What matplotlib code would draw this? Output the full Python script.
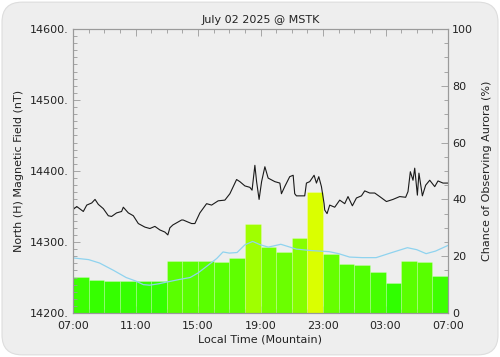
import numpy as np
import matplotlib
matplotlib.use("Agg")
import matplotlib.pyplot as plt
from matplotlib.patches import FancyBboxPatch

# hourly aurora chance (%), one bar per hour starting 07:00
aurora_pct = [12.6, 11.5, 11.4, 11.4, 11.3, 11.3, 18.3, 18.4, 18.4, 18.0, 19.3, 31.5,
              23.2, 21.6, 26.4, 42.5, 20.7, 17.1, 16.9, 14.6, 10.5, 18.3, 18.0, 12.9]

# forecast curve (hours after 07:00, %)
fc_hours = [0, 1, 1.7, 2.6, 3.4, 4.0, 4.5, 4.9, 5.5, 6.0, 6.8, 7.5, 8.0, 8.5, 9.2, 9.6,
            10.0, 10.5, 11.0, 11.5, 12.0, 12.5, 13.3, 14.3, 15.2, 16.4, 17.0, 17.7,
            18.5, 19.4, 20.3, 21.4, 22.0, 22.6, 23.2, 24.0]
fc_pct = [19.4, 18.8, 17.6, 15.0, 12.5, 11.3, 10.0, 9.8, 10.3, 10.9, 11.8, 12.5, 14.1,
          16.2, 19.2, 21.5, 21.1, 21.3, 24.0, 25.2, 24.0, 23.2, 24.2, 22.5, 22.0, 21.6,
          20.9, 19.7, 19.5, 19.5, 21.1, 23.0, 22.3, 20.9, 21.8, 23.8]

# magnetometer H component (hours after 07:00, nT)
mag_hours = [0.02, 0.24, 0.66, 0.88, 1.20, 1.41, 1.62, 1.94, 2.26, 2.47, 2.79, 3.11, 3.22,
             3.54, 3.86, 4.18, 4.60, 4.92, 5.24, 5.56, 5.88, 6.07, 6.20, 6.39, 6.63, 6.95,
             7.05, 7.37, 7.59, 7.80, 8.12, 8.55, 8.87, 9.29, 9.72, 10.04, 10.47, 10.68,
             11.00, 11.32, 11.46, 11.64, 11.75, 11.91, 12.07, 12.28, 12.49, 12.92, 13.24,
             13.34, 13.55, 13.87, 14.09, 14.19, 14.30, 14.83, 14.94, 15.15, 15.43, 15.58,
             15.73, 15.90, 16.07, 16.11, 16.26, 16.43, 16.75, 17.07, 17.39, 17.60, 17.88,
             18.14, 18.46, 18.67, 18.99, 19.31, 19.63, 20.06, 20.48, 20.91, 21.29, 21.44,
             21.59, 21.76, 21.87, 22.04, 22.14, 22.36, 22.57, 22.83, 23.15, 23.36, 23.68,
             23.98]
mag_nt = [14346, 14350, 14343, 14352, 14355, 14360, 14353, 14347, 14337, 14336, 14341,
          14343, 14349, 14341, 14337, 14326, 14321, 14319, 14322, 14317, 14314, 14310,
          14320, 14324, 14327, 14331, 14331, 14328, 14326, 14326, 14341, 14354, 14352,
          14358, 14359, 14368, 14388, 14385, 14379, 14377, 14373, 14408, 14385, 14360,
          14385, 14406, 14390, 14385, 14383, 14368, 14378, 14392, 14394, 14368, 14365,
          14365, 14383, 14385, 14394, 14383, 14392, 14378, 14354, 14345, 14340, 14352,
          14349, 14359, 14354, 14364, 14351, 14362, 14365, 14372, 14369, 14369, 14364,
          14357, 14360, 14364, 14363, 14371, 14399, 14387, 14404, 14366, 14397, 14365,
          14380, 14387, 14378, 14386, 14383, 14383]

tick_labels = ["07:00", "11:00", "15:00", "19:00", "23:00", "03:00", "07:00"]

bg = "#eeeeee"
spine_col = "#9a9a9a"
txt = "#222222"
plt.rcParams["font.family"] = ["DejaVu Sans"]
plt.rcParams["font.size"] = 8

fig = plt.figure(figsize=(5, 3.57), dpi=100, facecolor="white")
card = FancyBboxPatch((0.004, 0.006), 0.992, 0.988,
                      boxstyle="round,pad=0,rounding_size=0.04",
                      transform=fig.transFigure, facecolor=bg,
                      edgecolor="#dddddd", linewidth=0.8, mutation_aspect=1.4, zorder=-10)
fig.patches.append(card)

# ax holds the % data (right axis), ax2 the field (left axis) so the line sits on top
ax = fig.add_axes([0.146, 0.1232, 0.75, 0.7956])
ax.set_facecolor(bg)
ax2 = ax.twinx()

# bar colour goes from green to yellow with the chance
reds = np.clip(51 + 5.3 * (np.array(aurora_pct) - 11), 0, 255) / 255
bar_cols = [(r, 1.0, 0.0) for r in reds]
ax.bar(np.arange(24), aurora_pct, width=1.0, align="edge", color=bar_cols,
       edgecolor=(1, 1, 1, 0.25), linewidth=0.6, zorder=2)
ax.plot(fc_hours, fc_pct, color="#8fd3ee", linewidth=0.9, zorder=3)
ax.set_xlim(0, 24)
ax.set_ylim(0, 100)

ax2.plot(mag_hours, mag_nt, color="#1a1a1a", linewidth=0.8)
ax2.set_ylim(14200, 14600)

# right axis for %, left for nT
ax.yaxis.tick_right()
ax.yaxis.set_label_position("right")
ax2.yaxis.tick_left()
ax2.yaxis.set_label_position("left")

ax.set_xticks(np.arange(0, 25, 4))
ax.set_xticklabels(tick_labels)
ax.set_xticks(np.arange(0, 25, 1), minor=True)
ax.set_yticks(np.arange(0, 101, 20))
ax.set_yticks(np.arange(0, 101, 5), minor=True)
ax2.set_yticks(np.arange(14200, 14601, 100))
ax2.set_yticklabels([f"{v}." for v in range(14200, 14601, 100)])
ax2.set_yticks(np.arange(14200, 14601, 10), minor=True)

for a in (ax, ax2):
    a.tick_params(which="major", direction="in", length=5, width=0.6, color=spine_col,
                  labelcolor=txt, labelsize=8, pad=3)
    a.tick_params(which="minor", direction="in", length=3, width=0.6, color=spine_col)
    for s in a.spines.values():
        s.set_color(spine_col)
        s.set_linewidth(0.8)
ax.tick_params(axis="x", which="both", top=True)
ax.tick_params(axis="x", which="major", pad=6)
ax2.tick_params(axis="x", which="both", top=False, bottom=False)

ax.set_ylabel("Chance of Observing Aurora (%)", color=txt, fontsize=8, rotation=90,
              labelpad=6)
ax2.set_ylabel("North (H) Magnetic Field (nT)", color=txt, fontsize=8, labelpad=4)
ax.set_xlabel("Local Time (Mountain)", color=txt, fontsize=8, labelpad=2)
ax.set_title("July 02 2025 @ MSTK", color=txt, fontsize=8, pad=4)

plt.savefig("out.png", dpi=100, facecolor="white")
